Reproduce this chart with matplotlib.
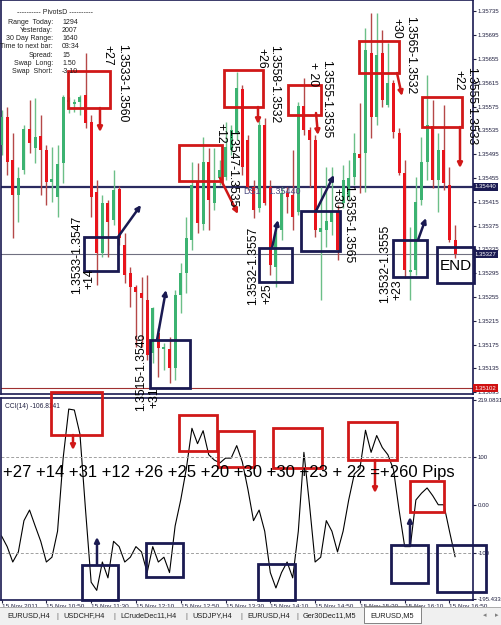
import numpy as np
import matplotlib
matplotlib.use('Agg')
import matplotlib.pyplot as plt
from matplotlib.patches import Rectangle
from matplotlib.transforms import blended_transform_factory

plt.rcParams['font.family'] = ['Liberation Sans', 'DejaVu Sans']

# EURUSD M5, 15 Nov 2011 from 10:10 - one entry per bar
opens = [1.35510, 1.35557, 1.35485, 1.35426, 1.35468, 1.35537, 1.35505, 1.35526, 1.35502, 1.35448,
         1.35423, 1.35480, 1.35583, 1.35580, 1.35583, 1.35594, 1.35549, 1.35431, 1.35329, 1.35413,
         1.35384, 1.35436, 1.35342, 1.35295, 1.35272, 1.35262, 1.35250, 1.35161, 1.35195, 1.35168,
         1.35168, 1.35136, 1.35258, 1.35295, 1.35351, 1.35448, 1.35378, 1.35482, 1.35413, 1.35455,
         1.35457, 1.35502, 1.35531, 1.35604, 1.35519, 1.35440, 1.35405, 1.35544, 1.35440, 1.35305,
         1.35368, 1.35430, 1.35426, 1.35398, 1.35576, 1.35536, 1.35519, 1.35364, 1.35368, 1.35381,
         1.35398, 1.35413, 1.35423, 1.35457, 1.35495, 1.35497, 1.35665, 1.35557, 1.35665, 1.35578,
         1.35615, 1.35531, 1.35463, 1.35297, 1.35300, 1.35418, 1.35482, 1.35542, 1.35452, 1.35502,
         1.35443, 1.35351]
highs = [1.35569, 1.35574, 1.35531, 1.35473, 1.35544, 1.35586, 1.35589, 1.35561, 1.35510, 1.35507,
         1.35510, 1.35594, 1.35591, 1.35588, 1.35594, 1.35665, 1.35561, 1.35452, 1.35426, 1.35418,
         1.35468, 1.35442, 1.35363, 1.35305, 1.35275, 1.35289, 1.35292, 1.35238, 1.35203, 1.35178,
         1.35188, 1.35267, 1.35312, 1.35389, 1.35482, 1.35480, 1.35524, 1.35505, 1.35505, 1.35485,
         1.35549, 1.35544, 1.35633, 1.35611, 1.35527, 1.35452, 1.35552, 1.35556, 1.35452, 1.35376,
         1.35440, 1.35440, 1.35502, 1.35583, 1.35623, 1.35541, 1.35527, 1.35440, 1.35473, 1.35473,
         1.35410, 1.35477, 1.35485, 1.35531, 1.35581, 1.35707, 1.35732, 1.35732, 1.35704, 1.35682,
         1.35620, 1.35539, 1.35485, 1.35373, 1.35457, 1.35524, 1.35628, 1.35586, 1.35531, 1.35578,
         1.35473, 1.35376]
lows = [1.35494, 1.35460, 1.35354, 1.35381, 1.35462, 1.35497, 1.35480, 1.35426, 1.35410, 1.35415,
        1.35389, 1.35447, 1.35564, 1.35566, 1.35561, 1.35539, 1.35389, 1.35275, 1.35322, 1.35322,
        1.35376, 1.35342, 1.35279, 1.35238, 1.35171, 1.35171, 1.35149, 1.35144, 1.35121, 1.35132,
        1.35111, 1.35116, 1.35228, 1.35262, 1.35334, 1.35363, 1.35368, 1.35368, 1.35401, 1.35443,
        1.35452, 1.35494, 1.35519, 1.35460, 1.35435, 1.35388, 1.35398, 1.35410, 1.35292, 1.35272,
        1.35351, 1.35396, 1.35368, 1.35393, 1.35527, 1.35440, 1.35356, 1.35250, 1.35339, 1.35359,
        1.35317, 1.35405, 1.35418, 1.35443, 1.35430, 1.35431, 1.35522, 1.35544, 1.35574, 1.35574,
        1.35522, 1.35460, 1.35287, 1.35250, 1.35292, 1.35410, 1.35452, 1.35438, 1.35398, 1.35435,
        1.35347, 1.35321]
closes = [1.35557, 1.35482, 1.35426, 1.35455, 1.35537, 1.35514, 1.35524, 1.35502, 1.35448, 1.35453,
          1.35478, 1.35591, 1.35586, 1.35582, 1.35591, 1.35547, 1.35423, 1.35329, 1.35413, 1.35381,
          1.35435, 1.35354, 1.35292, 1.35272, 1.35263, 1.35253, 1.35158, 1.35237, 1.35169, 1.35171,
          1.35136, 1.35258, 1.35295, 1.35354, 1.35443, 1.35379, 1.35482, 1.35418, 1.35447, 1.35468,
          1.35507, 1.35536, 1.35606, 1.35473, 1.35440, 1.35401, 1.35544, 1.35413, 1.35309, 1.35363,
          1.35430, 1.35423, 1.35389, 1.35576, 1.35536, 1.35519, 1.35368, 1.35371, 1.35383, 1.35398,
          1.35334, 1.35452, 1.35455, 1.35497, 1.35489, 1.35670, 1.35557, 1.35662, 1.35586, 1.35615,
          1.35532, 1.35463, 1.35300, 1.35300, 1.35415, 1.35482, 1.35544, 1.35452, 1.35502, 1.35447,
          1.35351, 1.35327]

# CCI(14) per bar
cci = [-64, -86, -118, -97, -32, -10, -43, -75, -118, -108,
       -54, 98, 200, 198, 148, -10, -160, -177, -118, -151,
       -75, -86, -118, -108, -86, -97, -140, -86, -118, -108,
       -140, -43, 11, 76, 160, 128, 155, 105, 94, 88,
       98, 98, 124, 90, 33, -32, -10, -54, -140, -172,
       -140, -118, -151, -54, 110, 1, -118, -108, -32, -54,
       -97, -54, 11, 65, 76, 156, 110, 145, 120, 105,
       74, -10, -86, -86, 11, 25, 36, 20, 1, 1,
       -54, -106.81]

time_labels = ['15 Nov 2011', '15 Nov 10:50', '15 Nov 11:30', '15 Nov 12:10', '15 Nov 12:50', '15 Nov 13:30',
               '15 Nov 14:10', '15 Nov 14:50', '15 Nov 15:30', '15 Nov 16:10', '15 Nov 16:50']
price_ticks = [1.35735, 1.35695, 1.35655, 1.35615, 1.35575, 1.35535, 1.35495, 1.35455, 1.35415,
               1.35375, 1.35335, 1.35295, 1.35255, 1.35215, 1.35175, 1.35135, 1.35095]
cci_ticks = [219.0831, 100, 0, -100, -195.433]
cci_tick_labels = ['219.0831', '100', '0.00', '-100', '-195.433']

info_names = ['Range  Today:', 'Yesterday:', '30 Day Range:', 'Time to next bar:', 'Spread:', 'Swap  Long:', 'Swap  Short:']
info_values = ['1294', '2007', '1640', '03:34', '15', '1.50', '-3.10']
tabs = ['EURUSD,H4', 'USDCHF,H4', 'LCrudeDec11,H4', 'USDJPY,H4', 'EURUSD,H4', 'Ger30Dec11,M5', 'EURUSD,M5']
pips_line = '+27 +14 +31 +12 +26 +25 +20 +30 +30 +23 + 22 =+260 Pips'

W, H = 502, 625
NAVY = '#1a1a52'
RED = '#d01818'
AXFONT = 4.3


def frac(x0, y0, x1, y1):
    return [x0 / W, 1 - y1 / H, (x1 - x0) / W, (y1 - y0) / H]


fig = plt.figure(figsize=(W / 100, H / 100), dpi=100)
fig.patch.set_facecolor('white')
ax = fig.add_axes(frac(1, 0, 473, 394))
ax2 = fig.add_axes(frac(1, 398, 473, 600))

# candles
o, h, l, c = map(np.array, (opens, highs, lows, closes))
idx = np.arange(len(o))
up = c >= o
body_col = np.where(up, '#3cb371', '#e8141c')
wick_col = np.where(up, '#6cbf88', '#b54848')
ax.vlines(idx, l, h, colors=wick_col, lw=1, zorder=2)
ax.bar(idx, np.maximum(np.abs(c - o), 0.000015), bottom=np.minimum(o, c), width=0.55,
       color=body_col, lw=0, zorder=3)

ax.axhline(1.35440, color='#2b2b60', lw=1.6, zorder=1)
ax.axhline(1.35327, color='#707080', lw=0.8, zorder=1)
ax.axhline(1.35102, color='#a03030', lw=0.8, zorder=1)
ax.text(43.2, 1.35440, 'DS1', fontsize=6.5, color='#4a4a80', va='top', ha='left', zorder=4)
ax.text(47.6, 1.35440, '1.35440', fontsize=6.5, color='#4a4a80', va='top', ha='left', zorder=4)

ax.set_xlim(-0.1, 84.2)
ax.set_ylim(1.35092, 1.35754)
ax.set_xticks([])
ax.yaxis.tick_right()
ax.set_yticks(price_ticks)
ax.set_yticklabels([f'{p:.5f}' for p in price_ticks])
ax.tick_params(axis='y', labelsize=AXFONT, length=2, pad=1.5, colors='#202040')

tr = blended_transform_factory(ax.transAxes, ax.transData)
for val, fc in [(1.35440, NAVY), (1.35327, NAVY), (1.35102, '#d01010')]:
    ax.text(1.003, val, f'{val:.5f}', transform=tr, fontsize=AXFONT, color='white', va='center', ha='left',
            bbox=dict(boxstyle='square,pad=0.25', fc=fc, ec='none'), clip_on=False, zorder=6)

# CCI pane
ax2.plot(idx, cci, color='black', lw=0.8)
for lvl in (100, -100):
    ax2.axhline(lvl, color='#a0a0a0', lw=0.7, ls=(0, (3, 2)))
ax2.set_xlim(-0.1, 84.2)
ax2.set_ylim(-197, 223)
ax2.yaxis.tick_right()
ax2.set_yticks(cci_ticks)
ax2.set_yticklabels(cci_tick_labels)
ax2.tick_params(axis='y', labelsize=AXFONT, length=2, pad=1.5, colors='#202040')
ax2.set_xticks(np.arange(0, 81, 8))
ax2.set_xticklabels(time_labels, ha='left')
ax2.tick_params(axis='x', labelsize=4.6, length=2, pad=1, colors='#202040')
ax2.text(0.008, 0.975, 'CCI(14) -106.8141', transform=ax2.transAxes, fontsize=4.8, va='top', color='#202040')

for a in (ax, ax2):
    for s in a.spines.values():
        s.set_color(NAVY)
        s.set_linewidth(1.2)

# hand drawn annotations, in pixel coordinates of the screenshot
ov = fig.add_axes([0, 0, 1, 1])
ov.set_xlim(0, W)
ov.set_ylim(H, 0)
ov.axis('off')
ov.patch.set_alpha(0)


def box(x0, y0, x1, y1, color):
    ov.add_patch(Rectangle((x0, y0), x1 - x0, y1 - y0, fill=False, ec=color, lw=2))


def arrow(x0, y0, x1, y1, color):
    ov.annotate('', xy=(x1, y1), xytext=(x0, y0),
                arrowprops=dict(arrowstyle='-|>', color=color, lw=1.8, mutation_scale=7, shrinkA=0, shrinkB=0))


def vtext(x, y, s, rot, size=8.8):
    ov.text(x, y, s, rotation=rot, ha='center', va='center', fontsize=size, color='black')


for b in [(68, 71, 110, 108), (179, 145, 222, 181), (224, 70, 263, 107), (288, 85, 321, 115),
          (359, 41, 399, 73), (422, 97, 462, 127),
          (51, 392, 102, 435), (179, 415, 217, 451), (218, 431, 254, 467), (273, 428, 322, 468),
          (348, 422, 397, 460), (410, 481, 444, 512)]:
    box(*b, RED)
for a in [(100, 108, 100, 132), (220, 178, 238, 214), (258, 107, 258, 124), (316, 113, 318, 135),
          (397, 73, 402, 96), (460, 127, 460, 168), (73, 435, 73, 450), (375, 460, 375, 493)]:
    arrow(*a, RED)
for b in [(84, 237, 118, 271), (150, 340, 190, 388), (259, 248, 292, 282), (301, 211, 340, 251),
          (393, 240, 427, 277), (437, 247, 474, 283),
          (82, 565, 118, 600), (146, 543, 183, 577), (258, 564, 295, 600), (391, 545, 428, 583),
          (437, 545, 486, 592)]:
    box(*b, NAVY)
for a in [(118, 237, 141, 205), (157, 340, 166, 290), (272, 248, 278, 220), (316, 211, 334, 175),
          (418, 240, 426, 218), (97, 565, 97, 537), (410, 545, 410, 517)]:
    arrow(*a, NAVY)

vtext(107, 55, '+27', -90)
vtext(122, 83, '1.3533-1.3560', -90)
vtext(89, 279, '+14', 90)
vtext(77, 255, '1.3533-1.3547', 90)
vtext(141, 372, '1.3515-1.3546', 90)
vtext(154, 398, '+31', 90)
vtext(220, 133, '+12', -90)
vtext(232, 168, '1.3547-1.3535', -90)
vtext(261, 58, '+26', -90)
vtext(274, 84, '1.3558-1.3532', -90)
vtext(253, 266, '1.3532-1.3557', 90)
vtext(267, 294, '+25', 90)
vtext(313, 74, '+ 20', -90)
vtext(326, 99, '1.3555-1.3535', -90)
vtext(336, 198, '+30', -90)
vtext(348, 224, '1.3535-1.3565', -90)
vtext(396, 28, '+30', -90)
vtext(410, 55, '1.3565-1.3532', -90)
vtext(385, 264, '1.3532-1.3555', 90)
vtext(397, 290, '+23', 90)
vtext(458, 80, '+22', -90)
vtext(471, 106, '1.3555-1.3533', -90)
ov.text(456, 266, 'END', ha='center', va='center', fontsize=11)
ov.text(3, 472, pips_line, ha='left', va='center', fontsize=12)

# PivotsD info panel
ov.text(55, 13, '---------- PivotsD ----------', ha='center', va='center', fontsize=5, color='#202020')
for k, (n, v) in enumerate(zip(info_names, info_values)):
    yy = 22 + k * 8.3
    ov.text(53, yy, n, ha='right', va='center', fontsize=5, color='#202020')
    ov.text(62, yy, v, ha='left', va='center', fontsize=5, color='#202020')

# terminal tab bar
ov.add_patch(Rectangle((0, 607), W, 18, fc='#f0f0f0', ec='none'))
ov.plot([0, W], [607, 607], color='#a0a0a0', lw=0.6)
ov.add_patch(Rectangle((364, 606), 57, 17, fc='white', ec='#707070', lw=0.6))
tab_x = [7, 63, 120, 192, 247, 303, 370]
for k, (t, tx) in enumerate(zip(tabs, tab_x)):
    ov.text(tx, 616, t, ha='left', va='center', fontsize=5.3, color='#202020')
    if k < len(tabs) - 2:
        ov.text(tab_x[k + 1] - 6, 616, '|', ha='center', va='center', fontsize=5.3, color='#606060')
ov.text(485, 616, '\u25c2', ha='center', va='center', fontsize=5, color='#808080')
ov.text(497, 616, '\u25b8', ha='center', va='center', fontsize=5, color='#808080')

fig.savefig('out.png', dpi=100)
